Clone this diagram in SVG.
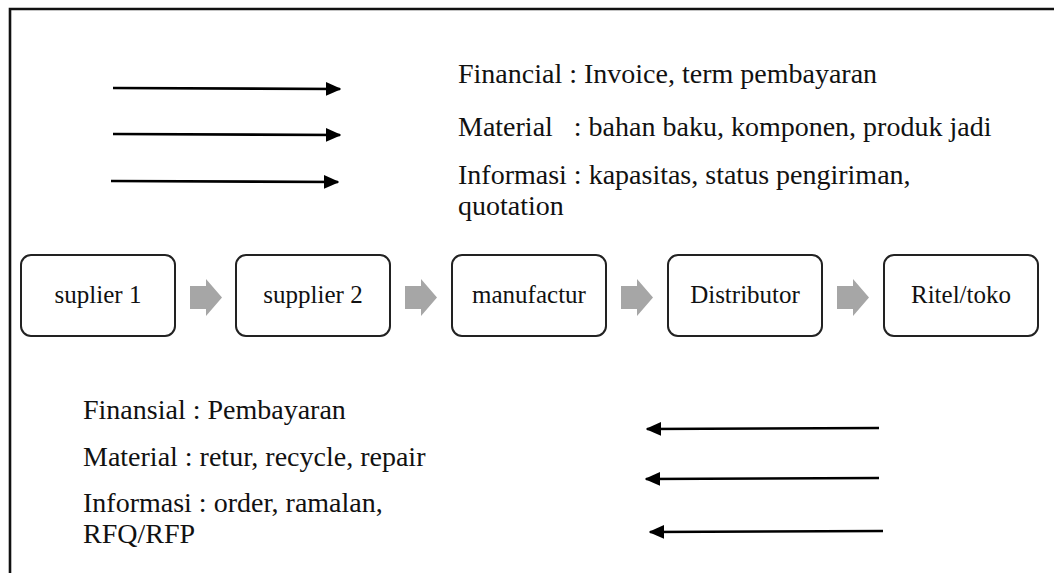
<svg xmlns="http://www.w3.org/2000/svg" width="1054" height="573" viewBox="0 0 1054 573">
<defs>
<style>
.t{font-family:'Liberation Serif','Tinos','Times New Roman','Noto Serif','DejaVu Serif',serif;font-size:28px;fill:#111;white-space:pre}
.bt{font-family:'Liberation Serif','Tinos','Times New Roman','Noto Serif','DejaVu Serif',serif;font-size:25px;fill:#111;text-anchor:middle}
.box{fill:#fff;stroke:#222;stroke-width:2}
.ln{stroke:#000;stroke-width:2.6;fill:none}
.ga{fill:#a6a6a6}
</style>
<marker id="ah" markerWidth="6" markerHeight="5.4" refX="5.5" refY="2.7" orient="auto" markerUnits="strokeWidth" viewBox="0 0 6 5.4">
<path d="M0,0 L6,2.7 L0,5.4 Z" fill="#000"/>
</marker>
</defs>
<rect width="1054" height="573" fill="#fff"/>
<g id="frame">
<path d="M10,573 L10,9 L1054,9" fill="none" stroke="#111" stroke-width="2.6"/>
</g>
<g id="connectors">
<line class="ln" x1="113" y1="88" x2="340" y2="89" marker-end="url(#ah)"/>
<line class="ln" x1="113" y1="134" x2="340" y2="135" marker-end="url(#ah)"/>
<line class="ln" x1="111" y1="181" x2="338" y2="182" marker-end="url(#ah)"/>
<line class="ln" x1="879" y1="428" x2="647" y2="429" marker-end="url(#ah)"/>
<line class="ln" x1="879" y1="478" x2="646" y2="479" marker-end="url(#ah)"/>
<line class="ln" x1="883" y1="531" x2="650" y2="532" marker-end="url(#ah)"/>
<polygon class="ga" points="190,286 206,286 206,279 222,297.5 206,316 206,309 190,309"/>
<polygon class="ga" points="405,286 421,286 421,279 437,297.5 421,316 421,309 405,309"/>
<polygon class="ga" points="621,286 637,286 637,279 653,297.5 637,316 637,309 621,309"/>
<polygon class="ga" points="837,286 853,286 853,279 869,297.5 853,316 853,309 837,309"/>
</g>
<g id="legend-top">
<text class="t" x="458" y="83">Financial : Invoice, term pembayaran</text>
<text class="t" x="458" y="136">Material   : bahan baku, komponen, produk jadi</text>
<text class="t" x="458" y="184">Informasi : kapasitas, status pengiriman,</text>
<text class="t" x="458" y="215">quotation</text>
</g>
<g id="node-suplier1">
<rect class="box" x="21" y="255" width="154" height="81" rx="10"/>
<text class="bt" x="98" y="303">suplier 1</text>
</g>
<g id="node-supplier2">
<rect class="box" x="236" y="255" width="154" height="81" rx="10"/>
<text class="bt" x="313" y="303">supplier 2</text>
</g>
<g id="node-manufactur">
<rect class="box" x="452" y="255" width="154" height="81" rx="10"/>
<text class="bt" x="529" y="303">manufactur</text>
</g>
<g id="node-distributor">
<rect class="box" x="668" y="255" width="154" height="81" rx="10"/>
<text class="bt" x="745" y="303">Distributor</text>
</g>
<g id="node-ritel">
<rect class="box" x="884" y="255" width="154" height="81" rx="10"/>
<text class="bt" x="961" y="303">Ritel/toko</text>
</g>
<g id="legend-bottom">
<text class="t" x="83" y="419">Finansial : Pembayaran</text>
<text class="t" x="83" y="466">Material : retur, recycle, repair</text>
<text class="t" x="83" y="512">Informasi : order, ramalan,</text>
<text class="t" x="83" y="543">RFQ/RFP</text>
</g>
</svg>
